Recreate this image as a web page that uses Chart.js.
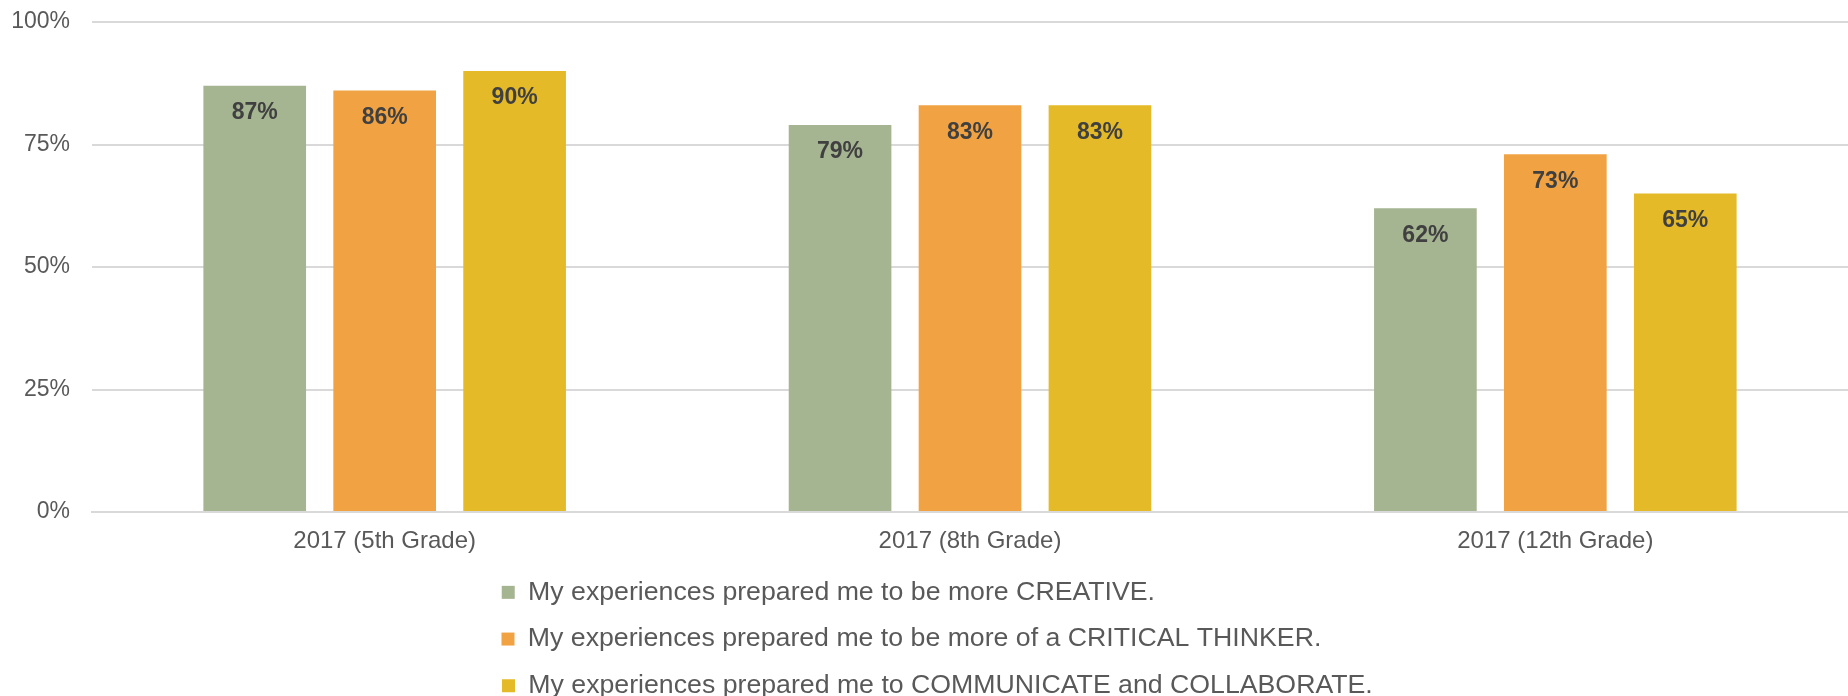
<!DOCTYPE html>
<html>
<head>
<meta charset="utf-8">
<title>Student survey 2017</title>
<script src="https://cdn.jsdelivr.net/npm/chart.js@4.4.0/dist/chart.umd.min.js"></script>
<style>
  html, body { margin: 0; padding: 0; background: #fff; }
  #wrap { width: 1848px; height: 696px; position: relative; }
</style>
</head>
<body>
<div id="wrap"><canvas id="survey"></canvas></div>
<script>
const categories = ['2017 (5th Grade)', '2017 (8th Grade)', '2017 (12th Grade)'];
const seriesNames = [
  'My experiences prepared me to be more CREATIVE.',
  'My experiences prepared me to be more of a CRITICAL THINKER.',
  'My experiences prepared me to COMMUNICATE and COLLABORATE.'
];
const creative = [87, 79, 62];
const criticalThinker = [86, 83, 73];
const communicate = [90, 83, 65];
const yTicks = [0, 25, 50, 75, 100];
const colors = ['#a5b491', '#f1a343', '#e4ba28'];

const FONT = '"Liberation Sans", Arial, sans-serif';
Chart.defaults.font.family = FONT;
Chart.defaults.color = '#595959';

// percent labels just inside the top of each bar
const barLabels = {
  id: 'barLabels',
  afterDatasetsDraw(chart) {
    const ctx = chart.ctx;
    ctx.save();
    ctx.font = 'bold 23px ' + FONT;
    ctx.fillStyle = '#404040';
    ctx.textAlign = 'center';
    ctx.textBaseline = 'middle';
    chart.data.datasets.forEach((ds, i) => {
      chart.getDatasetMeta(i).data.forEach((bar, j) => {
        ctx.fillText(ds.data[j] + '%', bar.x, bar.y + 27);
      });
    });
    ctx.restore();
  }
};

const data = {
  labels: categories,
  datasets: [
    { label: seriesNames[0], data: creative, backgroundColor: colors[0] },
    { label: seriesNames[1], data: criticalThinker, backgroundColor: colors[1] },
    { label: seriesNames[2], data: communicate, backgroundColor: colors[2] }
  ].map(ds => Object.assign(ds, { borderWidth: 0, categoryPercentage: 0.666, barPercentage: 0.79 }))
};

const config = {
  type: 'bar',
  data: data,
  plugins: [barLabels],
  options: {
    responsive: true,
    maintainAspectRatio: false,
    animation: false,
    layout: { padding: { left: 0, top: 22, right: 0, bottom: 0 } },
    scales: {
      x: {
        grid: { display: false },
        border: { display: true, color: '#d9d9d9', width: 2 },
        ticks: { font: { size: 24 }, color: '#595959', padding: 7 },
        afterFit: (scale) => { scale.height = 47; }
      },
      y: {
        min: 0,
        max: 100,
        afterBuildTicks: (scale) => { scale.ticks = yTicks.map(v => ({ value: v })); },
        grid: { color: '#d9d9d9', lineWidth: 2, drawTicks: false },
        border: { display: false },
        ticks: {
          font: { size: 23 },
          color: '#595959',
          padding: 22,
          callback: (v) => v + '%'
        },
        afterFit: (scale) => {
          scale.width = 92;
          // tick padding is horizontal here; don't let it push the plot top down
          scale.paddingTop = 14;
          scale.paddingBottom = 14;
        }
      }
    },
    plugins: {
      tooltip: { enabled: false },
      legend: {
        position: 'bottom',
        align: 'center',
        fullSize: false,
        maxHeight: 137,
        labels: {
          boxWidth: 13,
          boxHeight: 13,
          padding: 20,
          color: '#595959',
          font: { size: 26.7 },
          generateLabels(chart) {
            const items = Chart.defaults.plugins.legend.labels.generateLabels(chart);
            const ctx = chart.ctx;
            ctx.save();
            ctx.font = 'normal 26.7px ' + FONT;
            // pad all entries to the same width: one per row, left edges aligned
            items.forEach((item) => {
              while (ctx.measureText(item.text + ' ').width < 902) item.text += ' ';
              let n = 0;
              while (ctx.measureText(item.text).width < 909 && n < 60) { item.text += '\u200A'; n++; }
            });
            ctx.restore();
            return items;
          }
        }
      }
    }
  }
};

new Chart(document.getElementById('survey'), config);
</script>
</body>
</html>
